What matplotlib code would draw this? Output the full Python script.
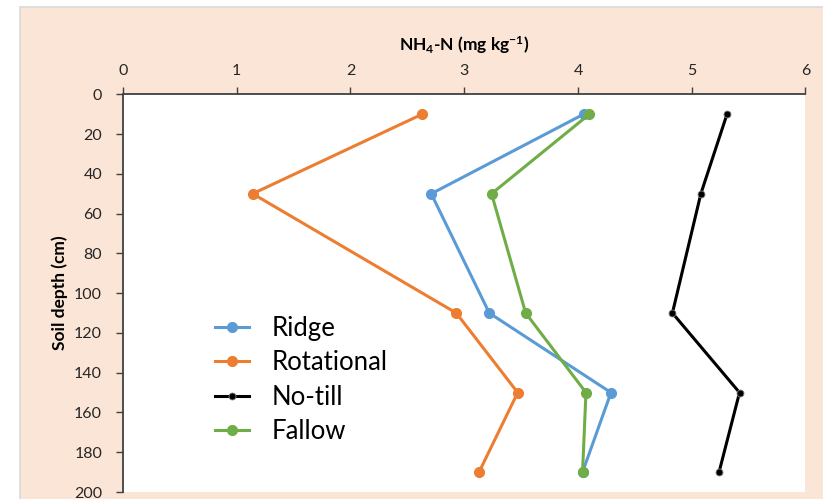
import numpy as np
import matplotlib
matplotlib.use("Agg")
import matplotlib.pyplot as plt
from matplotlib.patches import Rectangle

plt.rcParams["font.family"] = ["Lato", "DejaVu Sans"]
# bold Lato for the math parts of the axis title
plt.rcParams["mathtext.fontset"] = "custom"
plt.rcParams["mathtext.rm"] = "Lato:bold"
plt.rcParams["mathtext.it"] = "Lato:bold"
plt.rcParams["mathtext.bf"] = "Lato:bold"

# soil depth (cm) and NH4-N (mg/kg) per tillage system
depth = [10, 50, 110, 150, 190]
ridge = [4.05, 2.71, 3.22, 4.29, 4.04]
rotational = [2.63, 1.14, 2.93, 3.47, 3.13]
no_till = [5.31, 5.08, 4.83, 5.42, 5.24]
fallow = [4.10, 3.24, 3.54, 4.07, 4.04]

x_ticks = [0, 1, 2, 3, 4, 5, 6]
y_ticks = list(range(0, 201, 20))

W, H = 823, 499
fig = plt.figure(figsize=(W / 100, H / 100), dpi=100, facecolor="white")

# peach chart area with a thin grey outline
fig.patches.append(Rectangle((20 / W, -0.01), 1.0, (H - 6.5) / H + 0.01,
                             transform=fig.transFigure, facecolor="#FBE5D6",
                             edgecolor="#D9D9D9", linewidth=1.2, zorder=-5))

ax = fig.add_axes([123 / W, 7 / H, (805.5 - 123) / W, (492 - 94.3) / H])
ax.set_facecolor("white")

ax.plot(ridge, depth, color="#5B9BD5", lw=2.2, marker="o", ms=7, label="Ridge")
ax.plot(rotational, depth, color="#ED7D31", lw=2.2, marker="o", ms=7, label="Rotational")
ax.plot(no_till, depth, color="black", lw=2.2, marker="o", ms=5,
        mec="#7f7f7f", mew=0.6, label="No-till")
ax.plot(fallow, depth, color="#70AD47", lw=2.2, marker="o", ms=7, label="Fallow")

ax.set_xlim(0, 6)
ax.set_ylim(200, 0)
ax.set_xticks(x_ticks)
ax.set_yticks(y_ticks)
ax.xaxis.tick_top()
ax.xaxis.set_label_position("top")
ax.tick_params(axis="both", direction="out", length=5, width=1, color="#404040",
               labelsize=11.5, labelcolor="#262626")
ax.tick_params(axis="x", pad=7)
ax.tick_params(axis="y", pad=10)
for side in ("right", "bottom"):
    ax.spines[side].set_visible(False)
for side in ("left", "top"):
    ax.spines[side].set_color("#404040")
    ax.spines[side].set_linewidth(1.3)

ax.set_xlabel("NH$_4$-N (mg kg$^{-1}$)", fontsize=12.5, fontweight="bold", labelpad=9)
ax.set_ylabel("Soil depth (cm)", fontsize=12.5, fontweight="bold", labelpad=4)

ax.legend(loc="upper left", bbox_to_anchor=(202 / W, 1 - 303 / H),
          bbox_transform=fig.transFigure, frameon=False, fontsize=18.5,
          handlelength=1.32, handletextpad=0.9, labelspacing=0.37, borderpad=0)

fig.savefig("out.png", dpi=100, facecolor=fig.get_facecolor())
